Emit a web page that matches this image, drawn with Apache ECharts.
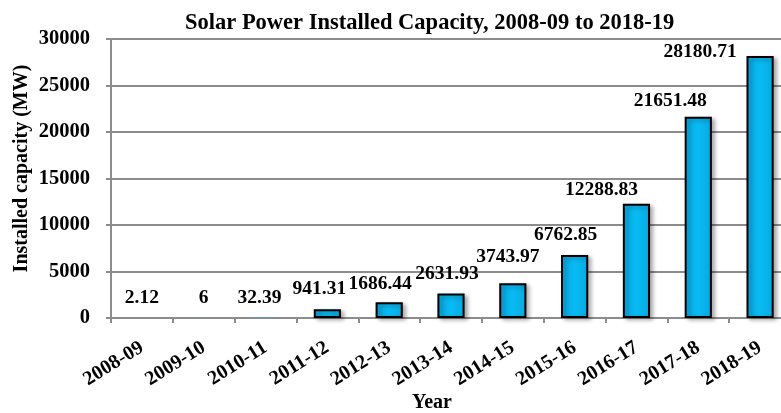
<!DOCTYPE html>
<html>
<head>
<meta charset="utf-8">
<script src="https://cdn.jsdelivr.net/npm/echarts@6/dist/echarts.min.js"></script>
<style>
  html, body { margin: 0; padding: 0; background: #fff; }
  #chart { width: 781px; height: 413px; }
</style>
</head>
<body>
<div id="chart"></div>
<script>
  // data
  const years = ['2008-09', '2009-10', '2010-11', '2011-12', '2012-13', '2013-14',
    '2014-15', '2015-16', '2016-17', '2017-18', '2018-19']
  const capacity = [2.12, 6, 32.39, 941.31, 1686.44, 2631.93, 3743.97, 6762.85,
    12288.83, 21651.48, 28180.71]
  const yTicks = [0, 5000, 10000, 15000, 20000, 25000, 30000]

  const serif = '"Liberation Serif", "Times New Roman", serif'

  // the original's value labels were nudged by hand, copy that
  const labelNudge = [[0, 0], [0, 0], [-6, 0], [-8, 0], [-9, 2], [-4, 0],
    [-5, -6], [-9, 0], [-35, 6], [-28, 4], [-60, 16]]

  const barData = capacity.map((v, i) => {
    const item = { value: v, label: { offset: labelNudge[i] } }
    // tiny values show no visible bar in the original, so drop their outline
    if (v < 100) {
      item.itemStyle = { borderWidth: 0, shadowBlur: 0, shadowOffsetX: 0, shadowOffsetY: 0 }
    }
    return item
  })

  const chart = echarts.init(document.getElementById('chart'))
  const option = {
    animation: false,
    title: {
      text: 'Solar Power Installed Capacity, 2008-09 to 2018-19',
      left: 180,
      top: 7,
      textStyle: {
        fontFamily: serif,
        fontWeight: 'bold',
        fontSize: 22.5,
        color: '#000'
      }
    },
    grid: {
      left: 111,
      right: -10,
      top: 39,
      bottom: 95,
      containLabel: false,
      outerBoundsMode: 'none'
    },
    xAxis: {
      type: 'category',
      data: years,
      name: 'Year',
      nameLocation: 'middle',
      nameGap: 75,
      nameMoveOverlap: false,
      nameTextStyle: {
        fontFamily: serif,
        fontWeight: 'bold',
        fontSize: 20,
        color: '#000',
        padding: [0, 38, 0, 0]
      },
      axisLine: { lineStyle: { color: '#8c8c8c', width: 2 } },
      axisTick: { show: true, length: 5, lineStyle: { color: '#8c8c8c', width: 2 } },
      axisLabel: {
        rotate: 32,
        margin: 28,
        interval: 0,
        fontFamily: serif,
        fontWeight: 'bold',
        fontSize: 20,
        color: '#000'
      }
    },
    yAxis: {
      type: 'value',
      min: yTicks[0],
      max: yTicks[yTicks.length - 1],
      interval: yTicks[1] - yTicks[0],
      name: 'Installed capacity (MW)',
      nameLocation: 'middle',
      nameGap: 79,
      nameMoveOverlap: false,
      nameTextStyle: {
        fontFamily: serif,
        fontWeight: 'bold',
        fontSize: 20,
        color: '#000',
        padding: [0, 0, 0, 20]
      },
      axisLine: { show: true, lineStyle: { color: '#8c8c8c', width: 2 } },
      axisTick: { show: true, length: 5, lineStyle: { color: '#8c8c8c', width: 2 } },
      splitLine: { lineStyle: { color: '#8c8c8c', width: 2 } },
      axisLabel: {
        margin: 21,
        fontFamily: serif,
        fontWeight: 'bold',
        fontSize: 20.5,
        color: '#000',
        formatter: v => String(v)
      }
    },
    series: [{
      type: 'bar',
      data: barData,
      barWidth: '44%',
      itemStyle: {
        color: new echarts.graphic.LinearGradient(0, 0, 1, 0, [
          { offset: 0, color: '#0aa8e0' },
          { offset: 0.5, color: '#08bbf4' },
          { offset: 1, color: '#0aa8e0' }
        ]),
        borderColor: '#000',
        borderWidth: 2,
        shadowColor: 'rgba(0,0,0,0.3)',
        shadowBlur: 4,
        shadowOffsetX: 3,
        shadowOffsetY: 2
      },
      label: {
        show: true,
        position: 'top',
        distance: 10,
        fontFamily: serif,
        fontWeight: 'bold',
        fontSize: 19.5,
        color: '#000'
      }
    }]
  }
  chart.setOption(option)
</script>
</body>
</html>
